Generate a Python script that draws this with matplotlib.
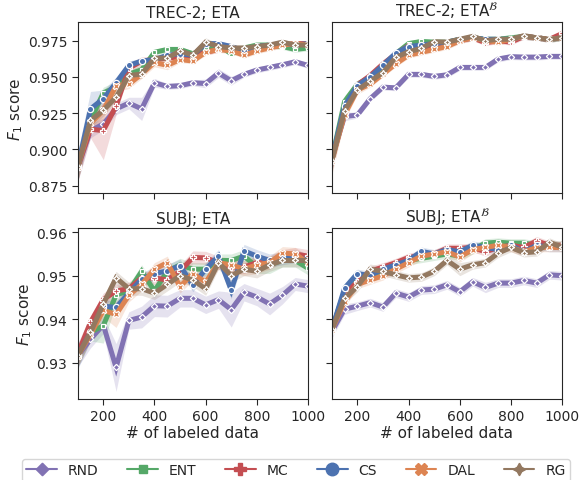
import matplotlib
matplotlib.use("Agg")
import matplotlib.pyplot as plt
from matplotlib.lines import Line2D
import numpy as np
import seaborn as sns

sns.set_style("ticks")
plt.rcParams['font.family'] = ['DejaVu Sans']

labeled = [100, 150, 200, 250, 300, 350, 400, 450, 500, 550, 600, 650, 700, 750, 800, 850, 900, 950, 1000]
methods = ["RND", "ENT", "MC", "CS", "DAL", "RG"]
titles = ["TREC-2; ETA", r"TREC-2; ETA$^{\mathcal{B}}$", "SUBJ; ETA", r"SUBJ; ETA$^{\mathcal{B}}$"]

# ---- TREC-2; ETA ----
trec_eta_rnd = [0.8876, 0.913, 0.9175, 0.928, 0.932, 0.928, 0.946, 0.9435, 0.944, 0.946, 0.9455, 0.9527, 0.9474, 0.9518, 0.9548, 0.9566, 0.9584, 0.9605, 0.958]
trec_eta_ent = [0.888, 0.920, 0.939, 0.943, 0.952, 0.955, 0.967, 0.969, 0.969, 0.966, 0.970, 0.972, 0.966, 0.970, 0.972, 0.972, 0.971, 0.969, 0.970]
trec_eta_mc = [0.888, 0.914, 0.913, 0.930, 0.956, 0.961, 0.962, 0.963, 0.964, 0.965, 0.967, 0.969, 0.969, 0.969, 0.970, 0.971, 0.972, 0.973, 0.973]
trec_eta_cs = [0.888, 0.928, 0.935, 0.946, 0.958, 0.961, 0.962, 0.965, 0.966, 0.965, 0.973, 0.973, 0.971, 0.968, 0.971, 0.972, 0.973, 0.972, 0.973]
trec_eta_dal = [0.888, 0.918, 0.927, 0.944, 0.945, 0.952, 0.960, 0.958, 0.962, 0.961, 0.967, 0.969, 0.968, 0.965, 0.968, 0.970, 0.972, 0.973, 0.972]
trec_eta_rg = [0.888, 0.920, 0.927, 0.936, 0.951, 0.952, 0.963, 0.963, 0.968, 0.965, 0.974, 0.971, 0.970, 0.970, 0.971, 0.972, 0.974, 0.972, 0.972]
trec_eta_rnd_ci = [0.010, 0.005, 0.004, 0.004, 0.004, 0.008, 0.003, 0.002, 0.002, 0.002, 0.003, 0.003, 0.003, 0.002, 0.002, 0.002, 0.002, 0.002, 0.002]
trec_eta_ent_ci = [0.010, 0.006, 0.004, 0.004, 0.003, 0.003, 0.002, 0.002, 0.002, 0.002, 0.002, 0.002, 0.002, 0.002, 0.002, 0.002, 0.002, 0.002, 0.002]
trec_eta_mc_ci = [0.010, 0.006, 0.020, 0.006, 0.003, 0.003, 0.002, 0.002, 0.002, 0.002, 0.002, 0.002, 0.002, 0.002, 0.002, 0.002, 0.002, 0.002, 0.002]
trec_eta_cs_ci = [0.010, 0.012, 0.006, 0.004, 0.003, 0.002, 0.002, 0.002, 0.002, 0.002, 0.002, 0.002, 0.002, 0.002, 0.002, 0.002, 0.002, 0.002, 0.002]
trec_eta_dal_ci = [0.010, 0.006, 0.006, 0.004, 0.003, 0.003, 0.003, 0.003, 0.002, 0.002, 0.002, 0.002, 0.002, 0.002, 0.002, 0.002, 0.002, 0.002, 0.002]
trec_eta_rg_ci = [0.010, 0.005, 0.004, 0.003, 0.003, 0.003, 0.002, 0.002, 0.002, 0.002, 0.003, 0.002, 0.002, 0.002, 0.002, 0.002, 0.002, 0.002, 0.002]

# ---- TREC-2; ETA^B ----
trec_etab_rnd = [0.8938, 0.9228, 0.9237, 0.935, 0.943, 0.9425, 0.9518, 0.9518, 0.9504, 0.9515, 0.9566, 0.9566, 0.9566, 0.9624, 0.964, 0.9637, 0.9637, 0.9642, 0.9642]
trec_etab_ent = [0.893, 0.933, 0.945, 0.950, 0.957, 0.966, 0.973, 0.9745, 0.974, 0.974, 0.976, 0.977, 0.976, 0.976, 0.977, 0.978, 0.977, 0.976, 0.977]
trec_etab_mc = [0.893, 0.925, 0.9445, 0.951, 0.959, 0.9658, 0.9715, 0.969, 0.970, 0.9722, 0.975, 0.977, 0.9736, 0.975, 0.974, 0.978, 0.977, 0.976, 0.980]
trec_etab_cs = [0.893, 0.930, 0.944, 0.950, 0.958, 0.9665, 0.971, 0.972, 0.973, 0.974, 0.976, 0.977, 0.976, 0.976, 0.976, 0.978, 0.977, 0.976, 0.977]
trec_etab_dal = [0.892, 0.924, 0.941, 0.945, 0.952, 0.959, 0.965, 0.967, 0.969, 0.971, 0.975, 0.977, 0.975, 0.974, 0.976, 0.978, 0.977, 0.976, 0.977]
trec_etab_rg = [0.892, 0.9267, 0.941, 0.947, 0.953, 0.9635, 0.9674, 0.9697, 0.9743, 0.974, 0.976, 0.978, 0.975, 0.976, 0.976, 0.9785, 0.977, 0.976, 0.977]
trec_etab_rnd_ci = [0.008, 0.003, 0.002, 0.002, 0.002, 0.002, 0.002, 0.002, 0.002, 0.002, 0.002, 0.002, 0.002, 0.002, 0.002, 0.002, 0.002, 0.002, 0.002]
trec_etab_ent_ci = [0.008, 0.004, 0.002, 0.002, 0.002, 0.002, 0.002, 0.002, 0.002, 0.002, 0.002, 0.002, 0.002, 0.002, 0.002, 0.002, 0.002, 0.002, 0.002]
trec_etab_mc_ci = [0.008, 0.004, 0.002, 0.002, 0.002, 0.002, 0.002, 0.002, 0.002, 0.002, 0.002, 0.002, 0.002, 0.002, 0.002, 0.002, 0.002, 0.002, 0.002]
trec_etab_cs_ci = [0.008, 0.005, 0.003, 0.002, 0.002, 0.002, 0.002, 0.002, 0.002, 0.002, 0.002, 0.002, 0.002, 0.002, 0.002, 0.002, 0.002, 0.002, 0.002]
trec_etab_dal_ci = [0.010, 0.004, 0.003, 0.002, 0.002, 0.002, 0.002, 0.002, 0.002, 0.002, 0.002, 0.002, 0.002, 0.002, 0.002, 0.002, 0.002, 0.002, 0.002]
trec_etab_rg_ci = [0.008, 0.004, 0.002, 0.002, 0.002, 0.002, 0.002, 0.002, 0.002, 0.002, 0.002, 0.002, 0.002, 0.002, 0.002, 0.002, 0.002, 0.002, 0.002]

# ---- SUBJ; ETA ----
subj_eta_rnd = [0.9315, 0.9354, 0.9387, 0.9289, 0.9397, 0.9405, 0.9431, 0.943, 0.9448, 0.9448, 0.9433, 0.9445, 0.9422, 0.9462, 0.9451, 0.9435, 0.9455, 0.9481, 0.9476]
subj_eta_ent = [0.9315, 0.937, 0.9385, 0.9456, 0.9465, 0.951, 0.9465, 0.951, 0.9525, 0.9515, 0.9515, 0.9535, 0.9535, 0.9545, 0.952, 0.9525, 0.9535, 0.9535, 0.9517]
subj_eta_mc = [0.932, 0.9393, 0.9445, 0.9465, 0.947, 0.9495, 0.9495, 0.949, 0.951, 0.9542, 0.9541, 0.953, 0.952, 0.952, 0.953, 0.953, 0.9545, 0.955, 0.9545]
subj_eta_cs = [0.9315, 0.937, 0.943, 0.9427, 0.946, 0.9492, 0.9505, 0.9511, 0.9523, 0.9478, 0.9515, 0.9545, 0.9467, 0.9557, 0.9545, 0.9535, 0.954, 0.9545, 0.9535]
subj_eta_dal = [0.9315, 0.9365, 0.942, 0.9411, 0.9455, 0.948, 0.9515, 0.953, 0.9475, 0.9505, 0.9485, 0.953, 0.9525, 0.9515, 0.9525, 0.953, 0.9552, 0.955, 0.953]
subj_eta_rg = [0.9315, 0.937, 0.9435, 0.9495, 0.947, 0.947, 0.946, 0.948, 0.950, 0.949, 0.947, 0.953, 0.950, 0.9515, 0.951, 0.9525, 0.9535, 0.9535, 0.9535]
subj_eta_rnd_ci = [0.0025, 0.0020, 0.0020, 0.0055, 0.0020, 0.0025, 0.0025, 0.0025, 0.0020, 0.0020, 0.0020, 0.0020, 0.0040, 0.0020, 0.0020, 0.0025, 0.0020, 0.0015, 0.0015]
subj_eta_ent_ci = [0.0025, 0.0020, 0.0040, 0.0020, 0.0015, 0.0015, 0.0015, 0.0015, 0.0015, 0.0015, 0.0015, 0.0015, 0.0015, 0.0015, 0.0015, 0.0020, 0.0015, 0.0015, 0.0015]
subj_eta_mc_ci = [0.0025, 0.0015, 0.0015, 0.0015, 0.0015, 0.0015, 0.0015, 0.0015, 0.0015, 0.0015, 0.0015, 0.0015, 0.0015, 0.0015, 0.0015, 0.0015, 0.0015, 0.0015, 0.0015]
subj_eta_cs_ci = [0.0030, 0.0020, 0.0015, 0.0015, 0.0015, 0.0015, 0.0015, 0.0015, 0.0015, 0.0015, 0.0015, 0.0015, 0.0020, 0.0015, 0.0015, 0.0015, 0.0015, 0.0015, 0.0015]
subj_eta_dal_ci = [0.0025, 0.0015, 0.0015, 0.0030, 0.0015, 0.0015, 0.0015, 0.0015, 0.0015, 0.0015, 0.0015, 0.0015, 0.0015, 0.0015, 0.0020, 0.0015, 0.0015, 0.0015, 0.0015]
subj_eta_rg_ci = [0.0025, 0.0015, 0.0015, 0.0015, 0.0015, 0.0015, 0.0015, 0.0015, 0.0015, 0.0015, 0.0015, 0.0015, 0.0015, 0.0015, 0.0015, 0.0015, 0.0015, 0.0015, 0.0015]

# ---- SUBJ; ETA^B ----
subj_etab_rnd = [0.9371, 0.9423, 0.943, 0.9438, 0.9428, 0.946, 0.9451, 0.9467, 0.9469, 0.9479, 0.9463, 0.9486, 0.9473, 0.9483, 0.9483, 0.9489, 0.9483, 0.9502, 0.950]
subj_etab_ent = [0.9375, 0.9465, 0.949, 0.950, 0.9505, 0.9525, 0.9535, 0.954, 0.9545, 0.955, 0.9545, 0.956, 0.9575, 0.9577, 0.9575, 0.9575, 0.957, 0.957, 0.957]
subj_etab_mc = [0.9375, 0.9462, 0.9485, 0.951, 0.952, 0.953, 0.9542, 0.9547, 0.955, 0.9563, 0.9563, 0.9565, 0.9555, 0.9565, 0.957, 0.9565, 0.958, 0.957, 0.957]
subj_etab_cs = [0.9375, 0.9471, 0.9505, 0.950, 0.9515, 0.9525, 0.9535, 0.9556, 0.955, 0.956, 0.9555, 0.957, 0.9565, 0.956, 0.957, 0.9555, 0.957, 0.9565, 0.9565]
subj_etab_dal = [0.9375, 0.944, 0.948, 0.949, 0.950, 0.9515, 0.953, 0.9545, 0.955, 0.9555, 0.9543, 0.956, 0.9565, 0.957, 0.9565, 0.9555, 0.9565, 0.9565, 0.9565]
subj_etab_rg = [0.9375, 0.9448, 0.9475, 0.9515, 0.951, 0.9502, 0.9495, 0.9497, 0.951, 0.9535, 0.9515, 0.9525, 0.953, 0.9552, 0.9565, 0.9553, 0.9555, 0.9577, 0.9565]
subj_etab_rnd_ci = [0.0015, 0.0012, 0.0010, 0.0010, 0.0010, 0.0010, 0.0010, 0.0010, 0.0010, 0.0010, 0.0010, 0.0010, 0.0012, 0.0010, 0.0010, 0.0010, 0.0010, 0.0010, 0.0010]
subj_etab_ent_ci = [0.0015, 0.0012, 0.0010, 0.0012, 0.0010, 0.0010, 0.0010, 0.0010, 0.0010, 0.0010, 0.0010, 0.0010, 0.0010, 0.0010, 0.0010, 0.0010, 0.0010, 0.0010, 0.0010]
subj_etab_mc_ci = [0.0015, 0.0012, 0.0012, 0.0012, 0.0010, 0.0010, 0.0010, 0.0010, 0.0010, 0.0010, 0.0010, 0.0010, 0.0010, 0.0010, 0.0010, 0.0010, 0.0010, 0.0010, 0.0010]
subj_etab_cs_ci = [0.0015, 0.0012, 0.0010, 0.0010, 0.0010, 0.0010, 0.0010, 0.0010, 0.0010, 0.0010, 0.0010, 0.0010, 0.0010, 0.0010, 0.0010, 0.0010, 0.0010, 0.0010, 0.0010]
subj_etab_dal_ci = [0.0015, 0.0012, 0.0010, 0.0010, 0.0010, 0.0010, 0.0010, 0.0010, 0.0010, 0.0010, 0.0012, 0.0010, 0.0010, 0.0010, 0.0010, 0.0010, 0.0010, 0.0010, 0.0010]
subj_etab_rg_ci = [0.0015, 0.0012, 0.0012, 0.0012, 0.0010, 0.0010, 0.0010, 0.0010, 0.0010, 0.0010, 0.0015, 0.0010, 0.0010, 0.0010, 0.0010, 0.0010, 0.0010, 0.0010, 0.0010]

panel_means = [
    [trec_eta_rnd, trec_eta_ent, trec_eta_mc, trec_eta_cs, trec_eta_dal, trec_eta_rg],
    [trec_etab_rnd, trec_etab_ent, trec_etab_mc, trec_etab_cs, trec_etab_dal, trec_etab_rg],
    [subj_eta_rnd, subj_eta_ent, subj_eta_mc, subj_eta_cs, subj_eta_dal, subj_eta_rg],
    [subj_etab_rnd, subj_etab_ent, subj_etab_mc, subj_etab_cs, subj_etab_dal, subj_etab_rg],
]
panel_cis = [
    [trec_eta_rnd_ci, trec_eta_ent_ci, trec_eta_mc_ci, trec_eta_cs_ci, trec_eta_dal_ci, trec_eta_rg_ci],
    [trec_etab_rnd_ci, trec_etab_ent_ci, trec_etab_mc_ci, trec_etab_cs_ci, trec_etab_dal_ci, trec_etab_rg_ci],
    [subj_eta_rnd_ci, subj_eta_ent_ci, subj_eta_mc_ci, subj_eta_cs_ci, subj_eta_dal_ci, subj_eta_rg_ci],
    [subj_etab_rnd_ci, subj_etab_ent_ci, subj_etab_mc_ci, subj_etab_cs_ci, subj_etab_dal_ci, subj_etab_rg_ci],
]

colors = {"RND": "#8172b3", "ENT": "#55a868", "MC": "#c44e52", "CS": "#4c72b0", "DAL": "#dd8452", "RG": "#937860"}
markers = {"RND": (4, 0, 0), "ENT": (4, 0, 45), "MC": "P", "CS": "o", "DAL": "X", "RG": (4, 1, 0)}

fig = plt.figure(figsize=(5.82, 4.81), dpi=100)
W, H = 582, 481
def ax_rect(x0, x1, y0, y1):
    return [x0 / W, 1 - y1 / H, (x1 - x0) / W, (y1 - y0) / H]

rects = [ax_rect(77.7, 308, 23.3, 194.3), ax_rect(331.7, 562.3, 23.3, 194.3),
         ax_rect(77.7, 308, 229.3, 400), ax_rect(331.7, 562.3, 229.3, 400)]
axes = [fig.add_axes(r) for r in rects]

x = np.array(labeled)
for i, ax in enumerate(axes):
    for m, mean, ci in zip(methods, panel_means[i], panel_cis[i]):
        mean = np.array(mean); ci = np.array(ci)
        ax.fill_between(x, mean - ci, mean + ci, color=colors[m], alpha=0.2, lw=0)
        ax.plot(x, mean, color=colors[m], lw=3.6, marker=markers[m], ms=4.5,
                mfc=colors[m], mec="white", mew=0.9, solid_joinstyle="miter")
    ax.set_xlim(100, 1000)
    ax.set_xticks([200, 400, 600, 800, 1000])
    ax.set_title(titles[i], fontsize=11, pad=4)
    ax.tick_params(labelsize=10, length=4)
    for s in ax.spines.values():
        s.set_color("0.15")
    if i < 2:
        ax.set_ylim(0.8698, 0.9877)
        ax.set_yticks([0.875, 0.900, 0.925, 0.950, 0.975])
        ax.set_yticklabels(["0.875", "0.900", "0.925", "0.950", "0.975"])
        ax.tick_params(labelbottom=False)
    else:
        ax.set_ylim(0.92165, 0.9609)
        ax.set_yticks([0.93, 0.94, 0.95, 0.96])
        ax.set_yticklabels(["0.93", "0.94", "0.95", "0.96"])
        ax.set_xlabel("# of labeled data", fontsize=11, labelpad=1)
    if i % 2 == 1:
        ax.tick_params(labelleft=False)
    else:
        ax.set_ylabel(r"$F_1$ score", fontsize=11, labelpad=2)

handles = [Line2D([], [], color=colors[m], lw=1.5, marker=markers[m], ms=9,
                  mfc=colors[m], mec=colors[m]) for m in methods]
fig.legend(handles, methods, loc="upper center", bbox_to_anchor=(296 / W, 1 - 453 / H),
           ncol=6, fontsize=10, handlelength=2.2, columnspacing=2.05, frameon=True,
           borderpad=0.3)

fig.savefig("out.png", dpi=100)
